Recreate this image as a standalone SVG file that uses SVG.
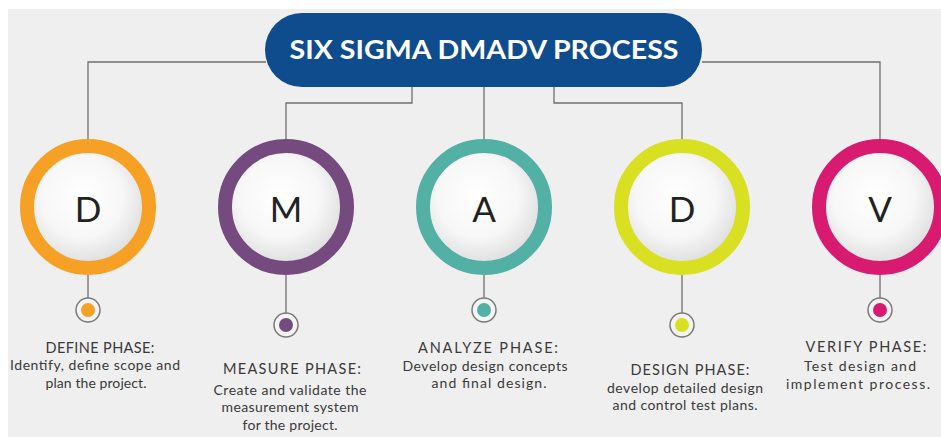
<svg xmlns="http://www.w3.org/2000/svg" width="941" height="437" viewBox="0 0 941 437">
  <defs>
    <radialGradient id="disc" cx="0.45" cy="0.42" r="0.6">
      <stop offset="0" stop-color="#ffffff"/>
      <stop offset="0.55" stop-color="#f7f7f7"/>
      <stop offset="1" stop-color="#d9d9d9"/>
    </radialGradient>
    <style>
      .bg { fill: #efefef; }
      .wire { fill: none; stroke: #6f6f6f; stroke-width: 1.3; }
      .disc { fill: url(#disc); }
      .ring { fill: none; stroke-width: 14; }
      .letter { font-family: "Lato", "Liberation Sans", sans-serif; font-size: 35px; fill: #222222; text-anchor: middle; }
      .dot-out { fill: #f4f4f4; stroke: #7a7a7a; stroke-width: 1.5; }
      .head { font-family: "Lato", "Liberation Sans", sans-serif; font-size: 14.5px; fill: #3a3a3a; text-anchor: middle; }
      .body { font-family: "Lato", "Liberation Sans", sans-serif; font-size: 14px; fill: #3a3a3a; text-anchor: middle; }
      .title { font-family: "Lato", "Liberation Sans", sans-serif; font-weight: bold; font-size: 27px; fill: #ffffff; text-anchor: middle; }
    </style>
  </defs>

  <!-- page -->
  <rect x="0" y="0" width="941" height="437" fill="#ffffff"/>
  <rect class="bg" x="8" y="9" width="933" height="428"/>

  <!-- connectors -->
  <g id="connectors">
    <polyline class="wire" points="266,62 88,62 88,139"/>
    <polyline class="wire" points="702,62 880,62 880,139"/>
    <polyline class="wire" points="412,86 412,103 286,103 286,139"/>
    <line class="wire" x1="484" y1="86" x2="484" y2="139"/>
    <polyline class="wire" points="554,86 554,103 682,103 682,139"/>
    <line class="wire" x1="88" y1="275" x2="88" y2="298"/>
    <line class="wire" x1="286" y1="275" x2="286" y2="313"/>
    <line class="wire" x1="484" y1="275" x2="484" y2="298"/>
    <line class="wire" x1="682" y1="275" x2="682" y2="313"/>
    <line class="wire" x1="880" y1="275" x2="880" y2="298"/>
  </g>

  <!-- header -->
  <g id="title">
    <rect x="265" y="13" width="437" height="74" rx="37" fill="#0f4c8d"/>
    <text class="title" x="484" y="59" textLength="389" lengthAdjust="spacingAndGlyphs">SIX SIGMA DMADV PROCESS</text>
  </g>

  <!-- phase nodes -->
  <g id="define">
    <circle class="disc" cx="88" cy="207" r="61"/>
    <circle class="ring" cx="88" cy="207" r="61" stroke="#f6a025"/>
    <text class="letter" x="88" y="222">D</text>
    <circle class="dot-out" cx="88" cy="310" r="12"/>
    <circle cx="88" cy="310" r="7" fill="#f6a025"/>
    <text class="head" x="100" y="353" textLength="109" lengthAdjust="spacing">DEFINE PHASE:</text>
    <text class="body" x="95" y="370" textLength="170" lengthAdjust="spacing">Identify, define scope and</text>
    <text class="body" x="96" y="388" textLength="101" lengthAdjust="spacing">plan the project.</text>
  </g>

  <g id="measure">
    <circle class="disc" cx="286" cy="207" r="61"/>
    <circle class="ring" cx="286" cy="207" r="61" stroke="#754b7f"/>
    <text class="letter" x="286" y="222">M</text>
    <circle class="dot-out" cx="286" cy="325" r="12"/>
    <circle cx="286" cy="325" r="7" fill="#754b7f"/>
    <text class="head" x="292" y="374" textLength="138" lengthAdjust="spacing">MEASURE PHASE:</text>
    <text class="body" x="290" y="395" textLength="153" lengthAdjust="spacing">Create and validate the</text>
    <text class="body" x="290" y="412" textLength="137" lengthAdjust="spacing">measurement system</text>
    <text class="body" x="290" y="430" textLength="95" lengthAdjust="spacing">for the project.</text>
  </g>

  <g id="analyze">
    <circle class="disc" cx="484" cy="207" r="61"/>
    <circle class="ring" cx="484" cy="207" r="61" stroke="#52b0a5"/>
    <text class="letter" x="484" y="222">A</text>
    <circle class="dot-out" cx="484" cy="310" r="12"/>
    <circle cx="484" cy="310" r="7" fill="#52b0a5"/>
    <text class="head" x="488" y="353" textLength="140" lengthAdjust="spacing">ANALYZE PHASE:</text>
    <text class="body" x="485" y="371" textLength="165" lengthAdjust="spacing">Develop design concepts</text>
    <text class="body" x="489" y="388" textLength="115" lengthAdjust="spacing">and final design.</text>
  </g>

  <g id="design">
    <circle class="disc" cx="682" cy="207" r="61"/>
    <circle class="ring" cx="682" cy="207" r="61" stroke="#d9e021"/>
    <text class="letter" x="682" y="222">D</text>
    <circle class="dot-out" cx="682" cy="325" r="12"/>
    <circle cx="682" cy="325" r="7" fill="#d9e021"/>
    <text class="head" x="690" y="375" textLength="119" lengthAdjust="spacing">DESIGN PHASE:</text>
    <text class="body" x="685" y="393" textLength="156" lengthAdjust="spacing">develop detailed design</text>
    <text class="body" x="685" y="410" textLength="145" lengthAdjust="spacing">and control test plans.</text>
  </g>

  <g id="verify">
    <circle class="disc" cx="880" cy="207" r="61"/>
    <circle class="ring" cx="880" cy="207" r="61" stroke="#d81b70"/>
    <text class="letter" x="880" y="222">V</text>
    <circle class="dot-out" cx="880" cy="310" r="12"/>
    <circle cx="880" cy="310" r="7" fill="#d81b70"/>
    <text class="head" x="866" y="352" textLength="121" lengthAdjust="spacing">VERIFY PHASE:</text>
    <text class="body" x="860" y="371" textLength="112" lengthAdjust="spacing">Test design and</text>
    <text class="body" x="858" y="389" textLength="144" lengthAdjust="spacing">implement process.</text>
  </g>
</svg>
